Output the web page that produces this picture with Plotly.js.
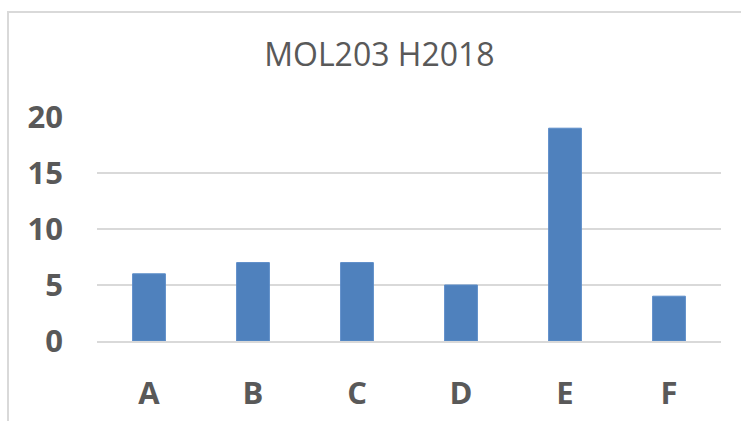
<!DOCTYPE html>
<html>
<head>
<meta charset="utf-8">
<script src="https://cdn.plot.ly/plotly-3.0.1.min.js"></script>
<style>
html,body{margin:0;padding:0;background:#fff;}
#wrap{position:relative;width:741px;height:421px;}
#chart{position:absolute;left:0;top:0;width:741px;height:421px;}
#frame{position:absolute;left:7px;top:11px;width:760px;height:440px;border-left:2px solid #d9d9d9;border-top:2px solid #d9d9d9;box-sizing:border-box;pointer-events:none;}
</style>
</head>
<body>
<div id="wrap"><div id="chart"></div><div id="frame"></div></div>
<script>
const categories = ["A", "B", "C", "D", "E", "F"];
const values = [6, 7, 7, 5, 19, 4];
const yTicks = [0, 5, 10, 15, 20];
const chartTitle = "MOL203 H2018";

const trace = {
  type: "bar",
  x: categories,
  y: values,
  marker: {color: "#4f81bd", line: {color: "#5b8cc8", width: 1}},
  width: 0.315,
  hoverinfo: "x+y"
};

const layout = {
  width: 741, height: 421,
  margin: {l: 97, r: 20, t: 117, b: 80},
  paper_bgcolor: "#ffffff",
  plot_bgcolor: "#ffffff",
  showlegend: false,
  title: {
    text: chartTitle,
    font: {family: "Open Sans, sans-serif", size: 32, color: "#595959"},
    x: 0.512, xanchor: "center", y: 0.87, yanchor: "middle"
  },
  xaxis: {
    type: "category",
    showgrid: false,
    zeroline: false,
    showline: true, linecolor: "#d9d9d9", linewidth: 2,
    ticks: "",
    ticklabelstandoff: 24,
    tickfont: {family: "Open Sans, sans-serif", size: 31, color: "#595959", weight: "bold"}
  },
  yaxis: {
    range: [0, 20],
    tickvals: yTicks,
    ticktext: yTicks.map(String),
    showgrid: true, gridcolor: "#d9d9d9", gridwidth: 2,
    zeroline: false,
    showline: false,
    ticks: "",
    ticklabelstandoff: 33,
    tickfont: {family: "Open Sans, sans-serif", size: 31, color: "#595959", weight: "bold"}
  },
  bargap: 0.685
};

Plotly.newPlot("chart", [trace], layout, {displayModeBar: false, staticPlot: true});
</script>
</body>
</html>
